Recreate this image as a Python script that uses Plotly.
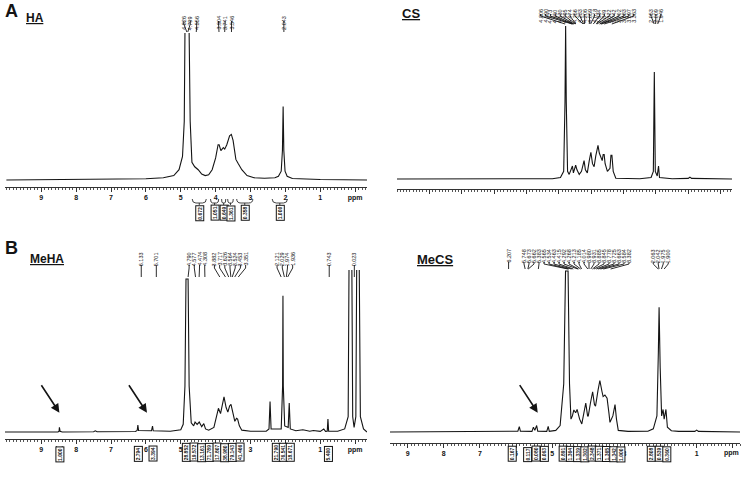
import plotly.graph_objects as go

W, H = 741, 479
FONT = "Arial, Liberation Sans, sans-serif"
INK = "#141414"

# ---------------- spectra: (ppm, relative intensity) ----------------
ha_points = [
    (10.0, 0), (7.0, 0.003), (6.0, 0.008), (5.5, 0.015), (5.2, 0.03), (5.05, 0.07),
    (4.95, 0.16), (4.9, 0.4), (4.87, 1.0), (4.86, 1.6), (4.79, 1.6), (4.77, 1.0),
    (4.73, 0.4), (4.68, 0.12), (4.6, 0.09), (4.5, 0.07), (4.4, 0.04), (4.3, 0.03),
    (4.2, 0.035), (4.1, 0.07), (4.0, 0.15), (3.93, 0.24), (3.9, 0.24), (3.85, 0.2),
    (3.78, 0.22), (3.74, 0.21), (3.68, 0.24), (3.6, 0.3), (3.55, 0.31), (3.5, 0.27),
    (3.42, 0.14), (3.35, 0.11), (3.25, 0.07), (3.1, 0.03), (2.9, 0.015), (2.6, 0.012),
    (2.3, 0.015), (2.2, 0.025), (2.12, 0.06), (2.085, 0.2), (2.065, 0.5), (2.045, 0.2),
    (2.01, 0.06), (1.95, 0.025), (1.8, 0.01), (1.0, 0.003), (-0.34, 0),
]
cs_points = [
    (10.0, 0), (5.2, 0.002), (4.95, 0.01), (4.85, 0.05), (4.81, 0.5), (4.79, 1.0),
    (4.77, 0.5), (4.73, 0.05), (4.68, 0.03), (4.62, 0.06), (4.58, 0.085), (4.55, 0.04),
    (4.5, 0.07), (4.48, 0.09), (4.44, 0.06), (4.37, 0.03), (4.3, 0.05), (4.25, 0.1),
    (4.22, 0.12), (4.18, 0.06), (4.12, 0.04), (4.06, 0.12), (4.01, 0.175), (3.96, 0.1),
    (3.91, 0.08), (3.86, 0.15), (3.82, 0.18), (3.79, 0.22), (3.75, 0.17), (3.7, 0.14),
    (3.66, 0.12), (3.63, 0.16), (3.6, 0.16), (3.57, 0.1), (3.5, 0.05), (3.42, 0.07),
    (3.39, 0.155), (3.36, 0.155), (3.32, 0.05), (3.24, 0.005), (2.5, 0.002), (2.15, 0.01),
    (2.08, 0.05), (2.05, 0.7), (2.02, 0.05), (1.96, 0.02), (1.92, 0.085), (1.89, 0.01),
    (1.5, 0.002), (1.0, 0.004), (0.95, 0.012), (0.9, 0.004), (-0.35, 0),
]
meha_points = [
    (10.04, 0), (8.52, 0), (8.49, 0.005), (8.48, 0.03), (8.46, 0.005), (8.4, 0),
    (7.5, 0.002), (7.45, 0.008), (7.4, 0.002), (6.3, 0.003), (6.25, 0.01), (6.23, 0.045),
    (6.21, 0.01), (5.84, 0.008), (5.81, 0.038), (5.79, 0.008), (5.3, 0.005), (5.0, 0.015),
    (4.93, 0.05), (4.88, 0.3), (4.85, 1.0), (4.79, 1.0), (4.76, 0.3), (4.7, 0.06),
    (4.63, 0.04), (4.59, 0.065), (4.53, 0.05), (4.47, 0.065), (4.4, 0.035), (4.34, 0.055),
    (4.29, 0.02), (4.2, 0.012), (4.05, 0.03), (3.96, 0.12), (3.92, 0.155), (3.86, 0.12),
    (3.8, 0.18), (3.76, 0.23), (3.7, 0.16), (3.65, 0.13), (3.6, 0.17), (3.56, 0.18),
    (3.5, 0.12), (3.45, 0.07), (3.4, 0.09), (3.37, 0.085), (3.32, 0.04), (3.25, 0.012),
    (3.0, 0.005), (2.55, 0.005), (2.47, 0.02), (2.44, 0.2), (2.41, 0.02), (2.12, 0.02),
    (2.08, 0.3), (2.07, 0.89), (2.06, 0.3), (2.02, 0.04), (1.92, 0.03), (1.89, 0.19),
    (1.86, 0.02), (1.7, 0.008), (1.5, 0.015), (1.3, 0.005), (1.2, 0.01), (1.0, 0.004),
    (0.9, 0.02), (0.85, 0.004), (0.8, 0.005), (0.78, 0.085), (0.76, 0.005), (0.5, 0.005),
    (0.3, 0.02), (0.2, 0.1), (0.17, 1.3), (0.1, 1.3), (0.07, 0.1), (0.03, 0.03),
    (-0.02, 0.1), (-0.05, 1.3), (-0.11, 1.3), (-0.15, 0.1), (-0.24, 0.02), (-0.34, 0),
]
mecs_points = [
    (9.49, 0), (7.0, 0.002), (6.2, 0.003), (5.95, 0.005), (5.91, 0.033), (5.88, 0.005),
    (5.56, 0.004), (5.52, 0.03), (5.48, 0.01), (5.43, 0.04), (5.4, 0.005), (5.15, 0.004),
    (5.11, 0.035), (5.08, 0.004), (4.9, 0.01), (4.78, 0.04), (4.68, 0.3), (4.63, 1.0),
    (4.56, 1.0), (4.52, 0.3), (4.48, 0.08), (4.44, 0.1), (4.4, 0.137), (4.35, 0.12),
    (4.31, 0.14), (4.24, 0.08), (4.18, 0.05), (4.11, 0.12), (4.07, 0.18), (4.02, 0.1),
    (4.0, 0.1), (3.94, 0.18), (3.88, 0.25), (3.83, 0.17), (3.8, 0.16), (3.73, 0.26),
    (3.68, 0.32), (3.62, 0.25), (3.59, 0.22), (3.54, 0.23), (3.48, 0.21), (3.43, 0.12),
    (3.4, 0.06), (3.32, 0.1), (3.26, 0.17), (3.22, 0.08), (3.17, 0.01), (2.9, 0.004),
    (2.35, 0.005), (2.2, 0.02), (2.1, 0.1), (2.06, 0.5), (2.04, 0.775), (2.01, 0.4),
    (1.97, 0.1), (1.93, 0.14), (1.9, 0.08), (1.85, 0.14), (1.81, 0.03), (1.7, 0.008),
    (1.5, 0.004), (1.05, 0.004), (1.0, 0.012), (0.95, 0.004), (-0.2, 0),
]

# ---------------- printed peak labels (ppm), grouped as drawn ----------------
ha_peaks = [[4.826, 4.799, 4.556], [3.904, 3.741, 3.546], [2.043]]
cs_peaks = [
    [4.806, 4.590, 4.573, 4.550, 4.530, 4.495, 4.474, 4.256, 4.233, 4.206,
     4.059, 4.018, 3.934, 3.849, 3.822, 3.742, 3.702, 3.683, 3.597, 3.363],
    [2.053, 2.009, 1.946],
]
meha_peaks = [
    [6.133], [5.701], [4.790, 4.577, 4.474, 4.308],
    [3.882, 3.717, 3.626, 3.564, 3.524, 3.453, 3.351],
    [2.121, 2.029, 1.974, 1.936], [0.743], [0.023],
]
mecs_peaks = [
    [6.207],
    [5.748, 5.673, 5.662, 5.383, 4.565, 4.534, 4.463, 4.415, 4.292, 4.268, 4.213,
     4.185, 4.014, 3.980, 3.931, 3.885, 3.845, 3.778, 3.725, 3.663, 3.584, 3.382],
    [2.063, 2.042, 1.975, 1.900],
]

# ---------------- integrals: region (from, to) in ppm and printed value ----------------
ha_integ_from = [4.71, 4.17, 3.84, 3.67, 3.44, 2.42]
ha_integ_to = [4.23, 3.89, 3.70, 3.48, 2.89, 1.90]
ha_integ_vals = ["0.672", "1.051", "0.649", "1.361", "0.358", "1.000"]

meha_integ_from = [8.58, 6.33, 5.91, 4.95, 4.73, 4.51, 4.29, 4.07, 3.85, 3.63, 3.41, 2.36, 2.16, 1.96, 0.88]
meha_integ_to = [8.38, 6.13, 5.71, 4.73, 4.51, 4.29, 4.07, 3.85, 3.63, 3.41, 3.19, 2.16, 1.96, 1.76, 0.68]
meha_integ_vals = ["1.000", "2.794", "3.394", "28.852", "19.572", "13.161", "71.789", "17.807",
                   "38.980", "79.143", "41.466", "21.790", "76.541", "18.671", "5.400"]

mecs_integ_from = [6.22, 5.78, 5.56, 5.33, 4.81, 4.61, 4.41, 4.21, 4.01, 3.81, 3.61, 3.41, 3.21, 2.37, 2.15, 1.94]
mecs_integ_to = [6.02, 5.58, 5.36, 5.13, 4.61, 4.41, 4.21, 4.01, 3.81, 3.61, 3.41, 3.21, 3.01, 2.17, 1.95, 1.74]
mecs_integ_vals = ["0.167", "0.117", "0.080", "0.063", "0.891", "1.364", "1.339", "1.302", "2.348",
                   "1.371", "1.365", "1.342", "1.000", "2.808", "0.539", "0.360"]

axis_ticks = [9, 8, 7, 6, 5, 4, 3, 2, 1, 0]
axis_ticktext = ["9", "8", "7", "6", "5", "4", "3", "2", "1", "ppm"]

# arrows marking the methacrylate signals: (panel, tip ppm, tip intensity)
arrows = [(2, 8.48, 0.126), (2, 5.97, 0.126), (3, 5.40, 0.12)]


def fx(px):
    return px / W


def fy(py):
    return 1 - py / H


panels = [
    dict(points=ha_points, xpx=(5, 367), xr=(10.04, -0.34), axis=187, base=180, top=33, scale=147,
         labels=True, peaks=ha_peaks, lab_y=14, lab_bot=21, bend=24, end=32, spacing=6.5,
         integ=(ha_integ_from, ha_integ_to, ha_integ_vals), br_top=199, br_mid=203, box_y=213),
    dict(points=cs_points, xpx=(397, 732), xr=(10.0, -0.35), axis=189, base=179, top=22, scale=153,
         labels=False, peaks=cs_peaks, lab_y=7, lab_bot=14, bend=16, end=24, spacing=4.9,
         integ=None),
    dict(points=meha_points, xpx=(5, 367), xr=(10.04, -0.34), axis=439, base=432, top=270, scale=153,
         labels=True, peaks=meha_peaks, lab_y=259, lab_bot=265, bend=268, end=277, spacing=5.2,
         integ=(meha_integ_from, meha_integ_to, meha_integ_vals), br_top=446, br_mid=451, box_y=462),
    dict(points=mecs_points, xpx=(390, 740), xr=(9.49, -0.2), axis=443, base=432, top=265, scale=161,
         labels=True, peaks=mecs_peaks, lab_y=256, lab_bot=262, bend=264, end=269, spacing=5.0,
         integ=(mecs_integ_from, mecs_integ_to, mecs_integ_vals), br_top=447, br_mid=452, box_y=462),
]

fig = go.Figure()
layout = {}
shapes = []
annotations = []

for i, p in enumerate(panels):
    n = "" if i == 0 else str(i + 1)
    xref, yref = "x" + n, "y" + n
    ppm = [pt[0] for pt in p["points"]]
    inten = [pt[1] for pt in p["points"]]
    fig.add_trace(go.Scatter(x=ppm, y=inten, mode="lines", xaxis=xref, yaxis=yref,
                             line=dict(color=INK, width=1.1), hoverinfo="skip", showlegend=False))

    x0, x1 = p["xpx"]
    k = (x1 - x0) / (p["xr"][0] - p["xr"][1])
    # "ppm" at the right end of the last panel would be dropped at the page edge,
    # so that one is written as an annotation instead
    edge = x0 + p["xr"][0] * k > W - 12
    ticktext = ["<b>%s</b>" % t for t in axis_ticktext]
    if edge:
        ticktext[-1] = ""
    layout["xaxis" + n] = dict(
        domain=[fx(x0), fx(x1)], range=list(p["xr"]), anchor=yref,
        showline=True, linecolor="#333", linewidth=1, showgrid=False, zeroline=False,
        ticks="outside", ticklen=4, tickwidth=1, tickcolor="#333",
        tickmode="array", tickvals=axis_ticks, ticktext=ticktext,
        showticklabels=p["labels"], tickfont=dict(size=7, color=INK, family=FONT),
        minor=dict(tickmode="linear", tick0=0, dtick=0.1, ticks="outside", ticklen=2,
                   tickcolor="#555", tickwidth=1),
    )
    layout["yaxis" + n] = dict(
        domain=[fy(p["axis"]), fy(p["top"])], anchor=xref, visible=False,
        range=[-(p["axis"] - p["base"]) / p["scale"], (p["base"] - p["top"]) / p["scale"]],
    )
    if edge and p["labels"]:
        annotations.append(dict(x=1, y=fy(p["axis"] + 10), xref="paper", yref="paper",
                                text="<b>ppm</b>", xanchor="right", yanchor="middle",
                                showarrow=False, font=dict(size=7, color=INK, family=FONT)))

    def to_px(v):
        return x0 + (p["xr"][0] - v) * k

    def to_ppm(px):
        return p["xr"][0] - (px - x0) / k

    # peak labels with their connector lines
    for group in p["peaks"]:
        centre = sum(to_px(v) for v in group) / len(group)
        m = len(group)
        for j, v in enumerate(group):
            lab = to_ppm(centre + p["spacing"] * (j - (m - 1) / 2))
            annotations.append(dict(x=lab, y=fy(p["lab_y"]), xref=xref, yref="paper",
                                    text="%.3f" % v, textangle=-90, showarrow=False,
                                    font=dict(size=5.5, color=INK, family=FONT)))
            shapes.append(dict(type="line", xref=xref, yref="paper", x0=lab, x1=lab,
                               y0=fy(p["lab_bot"]), y1=fy(p["bend"]), line=dict(color=INK, width=0.9)))
            shapes.append(dict(type="line", xref=xref, yref="paper", x0=lab, x1=v,
                               y0=fy(p["bend"]), y1=fy(p["end"]), line=dict(color=INK, width=0.9)))

    # integral brackets and boxed values
    if p["integ"]:
        for a, b, val in zip(*p["integ"]):
            w = b - a
            mid = (a + b) / 2
            yt, ym = fy(p["br_top"]), fy(p["br_mid"])
            path = (f"M {a + 0.08 * w},{yt} Q {a + 0.08 * w},{ym} {a + 0.3 * w},{ym} "
                    f"L {b - 0.3 * w},{ym} Q {b - 0.08 * w},{ym} {b - 0.08 * w},{yt} "
                    f"M {mid},{ym} L {mid},{fy(p['br_mid'] + 2)}")
            shapes.append(dict(type="path", xref=xref, yref="paper", path=path,
                               line=dict(color=INK, width=0.8)))
            annotations.append(dict(x=mid, y=fy(p["box_y"]), xref=xref, yref="paper",
                                    text="<b>%s</b>" % val, textangle=-90, showarrow=False,
                                    font=dict(size=5, color=INK, family=FONT),
                                    bordercolor=INK, borderwidth=1, borderpad=0.5, bgcolor="white"))

# arrows
for pi, tip_ppm, tip_y in arrows:
    n = str(pi + 1)
    annotations.append(dict(x=tip_ppm, y=tip_y, xref="x" + n, yref="y" + n, text="",
                            showarrow=True, arrowhead=2, arrowsize=1.1, arrowwidth=1.6,
                            arrowcolor=INK, ax=-19, ay=-29))

# panel letters and sample names
titles = [
    ("<b>A</b>", 3, 11, 18), ("<b>B</b>", 3, 248, 18),
    ("<b><u>HA</u></b>", 24, 18, 12), ("<b><u>CS</u></b>", 400, 14, 13),
    ("<b><u>MeHA</u></b>", 28, 259, 12), ("<b><u>MeCS</u></b>", 415, 259, 13),
]
for text, xp, yp, size in titles:
    annotations.append(dict(x=fx(xp), y=fy(yp), xref="paper", yref="paper", text=text,
                            xanchor="left", yanchor="middle", showarrow=False,
                            font=dict(size=size, color=INK, family=FONT)))

fig.update_layout(
    width=W, height=H, margin=dict(l=0, r=0, t=0, b=0),
    paper_bgcolor="white", plot_bgcolor="white",
    font=dict(family=FONT, color=INK),
    shapes=shapes, annotations=annotations, showlegend=False,
    **layout,
)

# the page body has a default margin; drop it so the figure sits at the window corner
fig.write_html("out.html", config={"displayModeBar": False},
               post_script="document.body.style.margin='0';")
